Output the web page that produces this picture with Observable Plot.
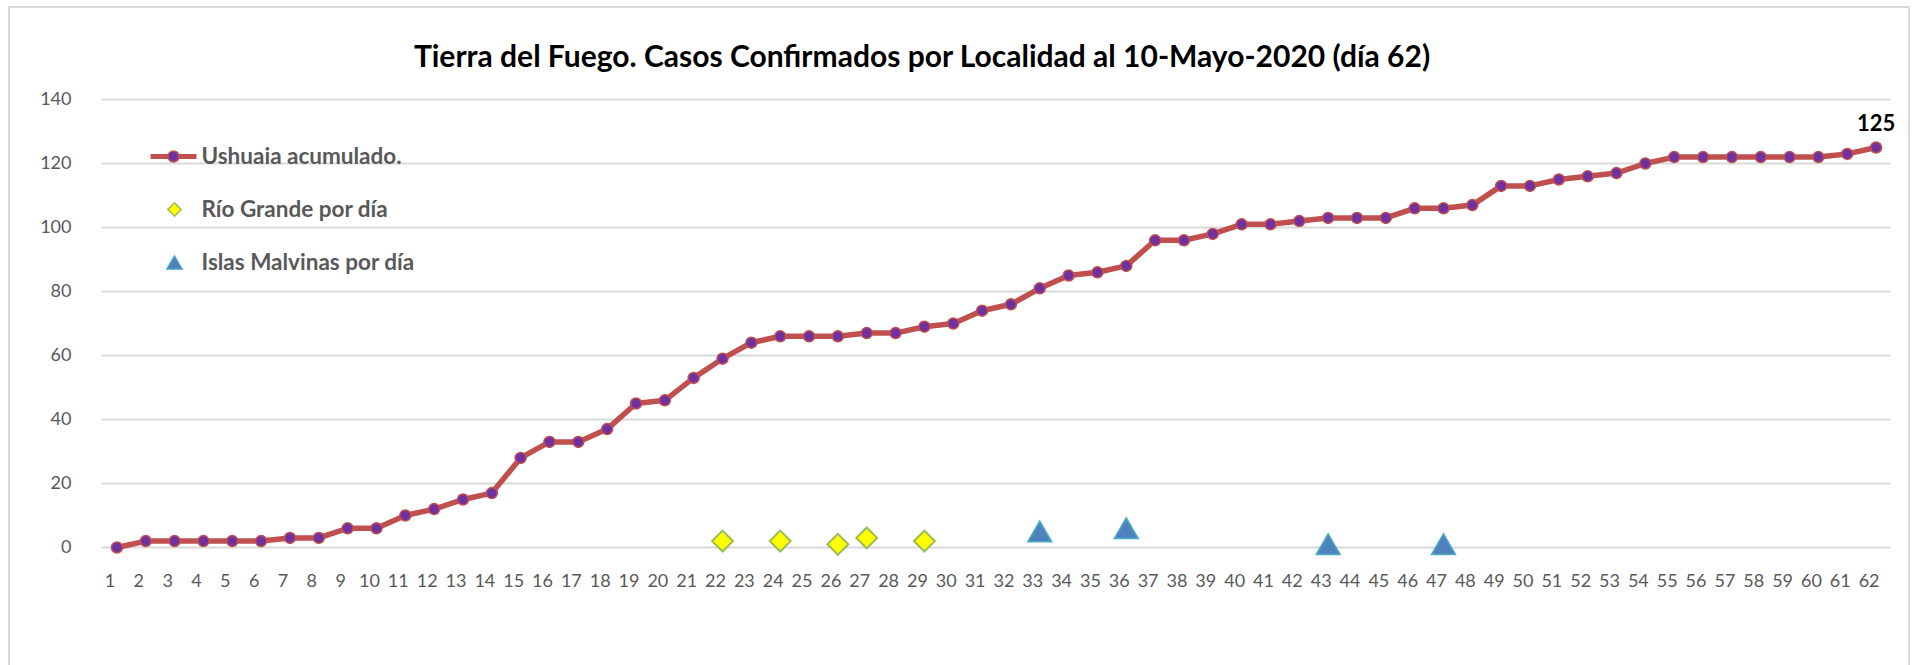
<!DOCTYPE html>
<html>
<head>
<meta charset="utf-8">
<script src="https://cdn.jsdelivr.net/npm/d3@7"></script>
<script src="https://cdn.jsdelivr.net/npm/@observablehq/plot@0.6"></script>
<style>
  body { margin: 0; background: #fff; }
  #wrap { position: relative; width: 1919px; height: 665px; overflow: hidden; font-family: Lato, "Open Sans", sans-serif; background: #fff; }
  #frame { position: absolute; left: 8px; top: 6px; width: 1902px; height: 720px; border: 2px solid #d9d9d9; box-sizing: border-box; }
  #title { position: absolute; left: 0; top: 37px; width: 1844px; text-align: center; font-weight: bold; font-size: 30px; line-height: 36px; color: #000; white-space: nowrap; }
  #chart { position: absolute; left: 0; top: 80px; }
</style>
</head>
<body>
<div id="wrap">
  <div id="frame"></div>
  <div id="title">Tierra del Fuego. Casos Confirmados por Localidad al 10-Mayo-2020 (día 62)</div>
  <div id="chart"></div>
</div>
<script>
// ---- data ----
const days = [1,2,3,4,5,6,7,8,9,10,11,12,13,14,15,16,17,18,19,20,21,22,23,24,25,26,27,28,29,30,31,32,33,34,35,36,37,38,39,40,41,42,43,44,45,46,47,48,49,50,51,52,53,54,55,56,57,58,59,60,61,62];
const ushuaia = [0,2,2,2,2,2,3,3,6,6,10,12,15,17,28,33,33,37,45,46,53,59,64,66,66,66,67,67,69,70,74,76,81,85,86,88,96,96,98,101,101,102,103,103,103,106,106,107,113,113,115,116,117,120,122,122,122,122,122,122,123,125];
const rioGrandeDays = [22,24,26,27,29];
const rioGrandeValues = [2,2,1,3,2];
const malvinasDays = [33,36,43,47];
const malvinasValues = [5,6,1,1];
const yTicks = [0,20,40,60,80,100,120,140];
const seriesNames = ["Ushuaia acumulado.", "Río Grande por día", "Islas Malvinas por día"];

// ---- styles ----
const lineColor = "#C0504D";
const markerColor = "#7030A0";

const ushData = days.map((d, i) => ({day: d, value: ushuaia[i]}));
const rgData = rioGrandeDays.map((d, i) => ({day: d, value: rioGrandeValues[i]}));
const mvData = malvinasDays.map((d, i) => ({day: d, value: malvinasValues[i]}));
const lastPoint = ushData[ushData.length - 1];

// custom legend line symbol
const legendLine = { draw(ctx, size) { ctx.moveTo(-23, 0); ctx.lineTo(23, 0); } };

const legendRows = [57, 110, 163];
const legendText = (name, row) => Plot.text([name], {
  frameAnchor: "top-left", dx: 99, dy: row, textAnchor: "start", lineAnchor: "middle",
  fontSize: 22.5, fontWeight: "bold", fill: "#595959"
});

const chart = Plot.plot({
  width: 1919,
  height: 585,
  marginLeft: 102,
  marginRight: 29,
  marginTop: 19,
  marginBottom: 118,
  style: { fontFamily: "Lato, 'Open Sans', sans-serif", fontSize: "18px", color: "#595959", background: "transparent" },
  x: { type: "point", domain: days, padding: 0.5 },
  y: { domain: [0, 140] },
  marks: [
    Plot.ruleY(yTicks, { stroke: "#d9d9d9", strokeWidth: 1.8 }),
    Plot.axisY(yTicks, { tickSize: 0, tickPadding: 31, fontSize: 18, label: null }),
    Plot.axisX(days, { tickSize: 0, tickPadding: 27, dx: -7, fontSize: 18, label: null }),
    Plot.line(ushData, { x: "day", y: "value", stroke: lineColor, strokeWidth: 5.5 }),
    Plot.dot(ushData, { x: "day", y: "value", r: 5.5, fill: markerColor, stroke: lineColor, strokeWidth: 1.5 }),
    Plot.dot(rgData, { x: "day", y: "value", symbol: "diamond2", r: 9.4, fill: "#FFFF00", stroke: "#9BBB59", strokeWidth: 2 }),
    Plot.dot(mvData, { x: "day", y: "value", symbol: "triangle", r: 8.9, dy: 3.4, fill: "#4F81BD", stroke: "#4BACC6", strokeWidth: 1.5 }),
    Plot.text([lastPoint], { x: "day", y: "value", text: d => String(d.value), dy: -24, fontSize: 22, fontWeight: "bold", fill: "#000" }),
    // legend
    Plot.dot([0], { frameAnchor: "top-left", dx: 71, dy: legendRows[0], symbol: legendLine, r: 1, stroke: lineColor, strokeWidth: 5, fill: "none" }),
    Plot.dot([0], { frameAnchor: "top-left", dx: 71, dy: legendRows[0], r: 5.5, fill: markerColor, stroke: lineColor, strokeWidth: 1.5 }),
    Plot.dot([0], { frameAnchor: "top-left", dx: 72, dy: legendRows[1], symbol: "diamond2", r: 6, fill: "#FFFF00", stroke: "#9BBB59", strokeWidth: 1.5 }),
    Plot.dot([0], { frameAnchor: "top-left", dx: 72, dy: legendRows[2] + 2.2, symbol: "triangle", r: 5.8, fill: "#4F81BD", stroke: "#4BACC6", strokeWidth: 1.2 }),
    legendText(seriesNames[0], legendRows[0]),
    legendText(seriesNames[1], legendRows[1]),
    legendText(seriesNames[2], legendRows[2])
  ]
});
document.getElementById("chart").appendChild(chart);
</script>
</body>
</html>
